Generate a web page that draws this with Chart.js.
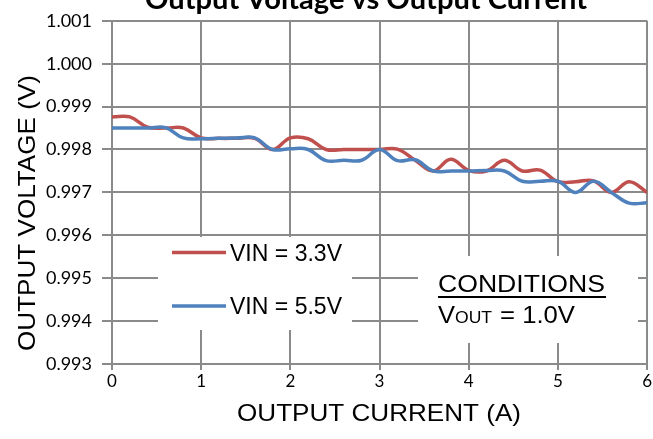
<!DOCTYPE html>
<html>
<head>
<meta charset="utf-8">
<script src="https://cdn.jsdelivr.net/npm/chart.js@4.4.1/dist/chart.umd.min.js"></script>
<style>
    html, body { margin: 0; padding: 0; background: #fff; }
    #wrap { position: relative; width: 653px; height: 439px; }
</style>
</head>
<body>
<div id="wrap"><canvas id="chart" width="653" height="439"></canvas></div>
<script>
// Output current (A)
const currents = [0, 0.2, 0.4, 0.6, 0.8, 1.0, 1.2, 1.4, 1.6, 1.8, 2.0, 2.2, 2.4, 2.6, 2.8, 3.0,
                  3.2, 3.4, 3.6, 3.8, 4.0, 4.2, 4.4, 4.6, 4.8, 5.0, 5.2, 5.4, 5.6, 5.8, 6.0];

// Output voltage (V) for each input
const vin33 = [0.99876, 0.99876, 0.99852, 0.99850, 0.99850, 0.99827, 0.99826, 0.99826, 0.99826, 0.99800,
               0.99827, 0.99825, 0.99800, 0.99800, 0.99800, 0.99800, 0.99801, 0.99775, 0.99750, 0.99777,
               0.99751, 0.99750, 0.99775, 0.99750, 0.99752, 0.99725, 0.99725, 0.99727, 0.99700, 0.99725,
               0.99700];
const vin55 = [0.99850, 0.99850, 0.99850, 0.99851, 0.99827, 0.99825, 0.99826, 0.99827, 0.99827, 0.99800,
               0.99802, 0.99800, 0.99774, 0.99775, 0.99775, 0.99800, 0.99774, 0.99776, 0.99750, 0.99750,
               0.99750, 0.99751, 0.99750, 0.99726, 0.99726, 0.99726, 0.99700, 0.99726, 0.99700, 0.99675,
               0.99676];

const seriesNames = ['VIN = 3.3V', 'VIN = 5.5V'];
const xTicks = [0, 1, 2, 3, 4, 5, 6];
const yTicks = [0.993, 0.994, 0.995, 0.996, 0.997, 0.998, 0.999, 1.000, 1.001];

const RED = '#c0504d';
const BLUE = '#4f81bd';
const GRID = '#8a8a8a';
const SANS = '"Liberation Sans", Arial, sans-serif';

function toPoints(ys) {
    return currents.map((c, i) => ({ x: c, y: ys[i] }));
}

// draw text squeezed/stretched to a given width
function fitText(ctx, text, x, y, font, width) {
    ctx.font = font;
    const w = ctx.measureText(text).width;
    ctx.save();
    ctx.translate(x, y);
    ctx.scale(width / w, 1);
    ctx.fillText(text, 0, 0);
    ctx.restore();
}

const boxes = {
    id: 'boxes',
    beforeDatasetsDraw(chart) {
        const ctx = chart.ctx;
        ctx.save();
        ctx.fillStyle = '#fff';
        ctx.fillRect(158, 237, 194, 93);   // legend
        ctx.fillRect(418, 256, 220, 87);   // conditions
        ctx.restore();
    }
};

const overlay = {
    id: 'overlay',
    afterDraw(chart) {
        const ctx = chart.ctx;
        ctx.save();
        ctx.fillStyle = '#000';
        ctx.textAlign = 'left';
        ctx.textBaseline = 'alphabetic';

        // chart title (clipped at top)
        fitText(ctx, 'Output Voltage vs Output Current', 145, 9, 'bold 28px Lato', 442);

        // axis titles
        fitText(ctx, 'OUTPUT CURRENT (A)', 237, 421, '24px ' + SANS, 284);
        ctx.save();
        ctx.translate(35, 351);
        ctx.rotate(-Math.PI / 2);
        fitText(ctx, 'OUTPUT VOLTAGE (V)', 0, 0, '24px ' + SANS, 276);
        ctx.restore();

        // legend
        const legend = [[RED, 252.5, 260.5], [BLUE, 306, 313.5]];
        legend.forEach(([col, ly, by], i) => {
            ctx.strokeStyle = col;
            ctx.lineWidth = 3.5;
            ctx.beginPath();
            ctx.moveTo(172, ly);
            ctx.lineTo(226, ly);
            ctx.stroke();
            fitText(ctx, seriesNames[i], 230, by, '23px ' + SANS, 112);
        });

        // conditions note
        fitText(ctx, 'CONDITIONS', 438, 292, '24px ' + SANS, 167);
        ctx.fillRect(438, 296, 168, 2);
        fitText(ctx, 'V', 438, 322.5, '24px ' + SANS, 17);
        fitText(ctx, 'OUT', 455, 322.5, '17px ' + SANS, 37);
        fitText(ctx, '= 1.0V', 500, 322.5, '24px ' + SANS, 75);

        ctx.restore();
    }
};

new Chart(document.getElementById('chart'), {
    type: 'line',
    data: {
        datasets: [{
            label: seriesNames[0],
            data: toPoints(vin33),
            borderColor: RED,
            borderWidth: 3.5,
            tension: 0.4,
            order: 2
        }, {
            label: seriesNames[1],
            data: toPoints(vin55),
            borderColor: BLUE,
            borderWidth: 3.5,
            tension: 0.4,
            order: 1
        }]
    },
    options: {
        responsive: false,
        animation: false,
        events: [],
        layout: { padding: { top: 17, right: 4, left: 0, bottom: 0 } },
        elements: { point: { radius: 0 } },
        plugins: {
            legend: { display: false },
            tooltip: { enabled: false }
        },
        scales: {
            x: {
                type: 'linear',
                min: 0,
                max: 6,
                afterBuildTicks: s => { s.ticks = xTicks.map(v => ({ value: v })); },
                afterFit: s => { s.height = 75; },
                grid: { color: GRID, lineWidth: 2, tickLength: 6 },
                border: { color: GRID, width: 2 },
                ticks: {
                    color: '#000',
                    padding: 1,
                    maxRotation: 0,
                    font: { family: 'Lato', size: 17 },
                    callback: v => String(v)
                }
            },
            y: {
                min: 0.993,
                max: 1.001,
                afterBuildTicks: s => { s.ticks = yTicks.map(v => ({ value: v })); },
                afterFit: s => { s.width = 112; },
                grid: { color: GRID, lineWidth: 2, tickLength: 10 },
                border: { color: GRID, width: 2 },
                ticks: {
                    color: '#000',
                    padding: 10,
                    font: { family: 'Lato', size: 18 },
                    callback: v => v.toFixed(3)
                }
            }
        }
    },
    plugins: [boxes, overlay]
});
</script>
</body>
</html>
